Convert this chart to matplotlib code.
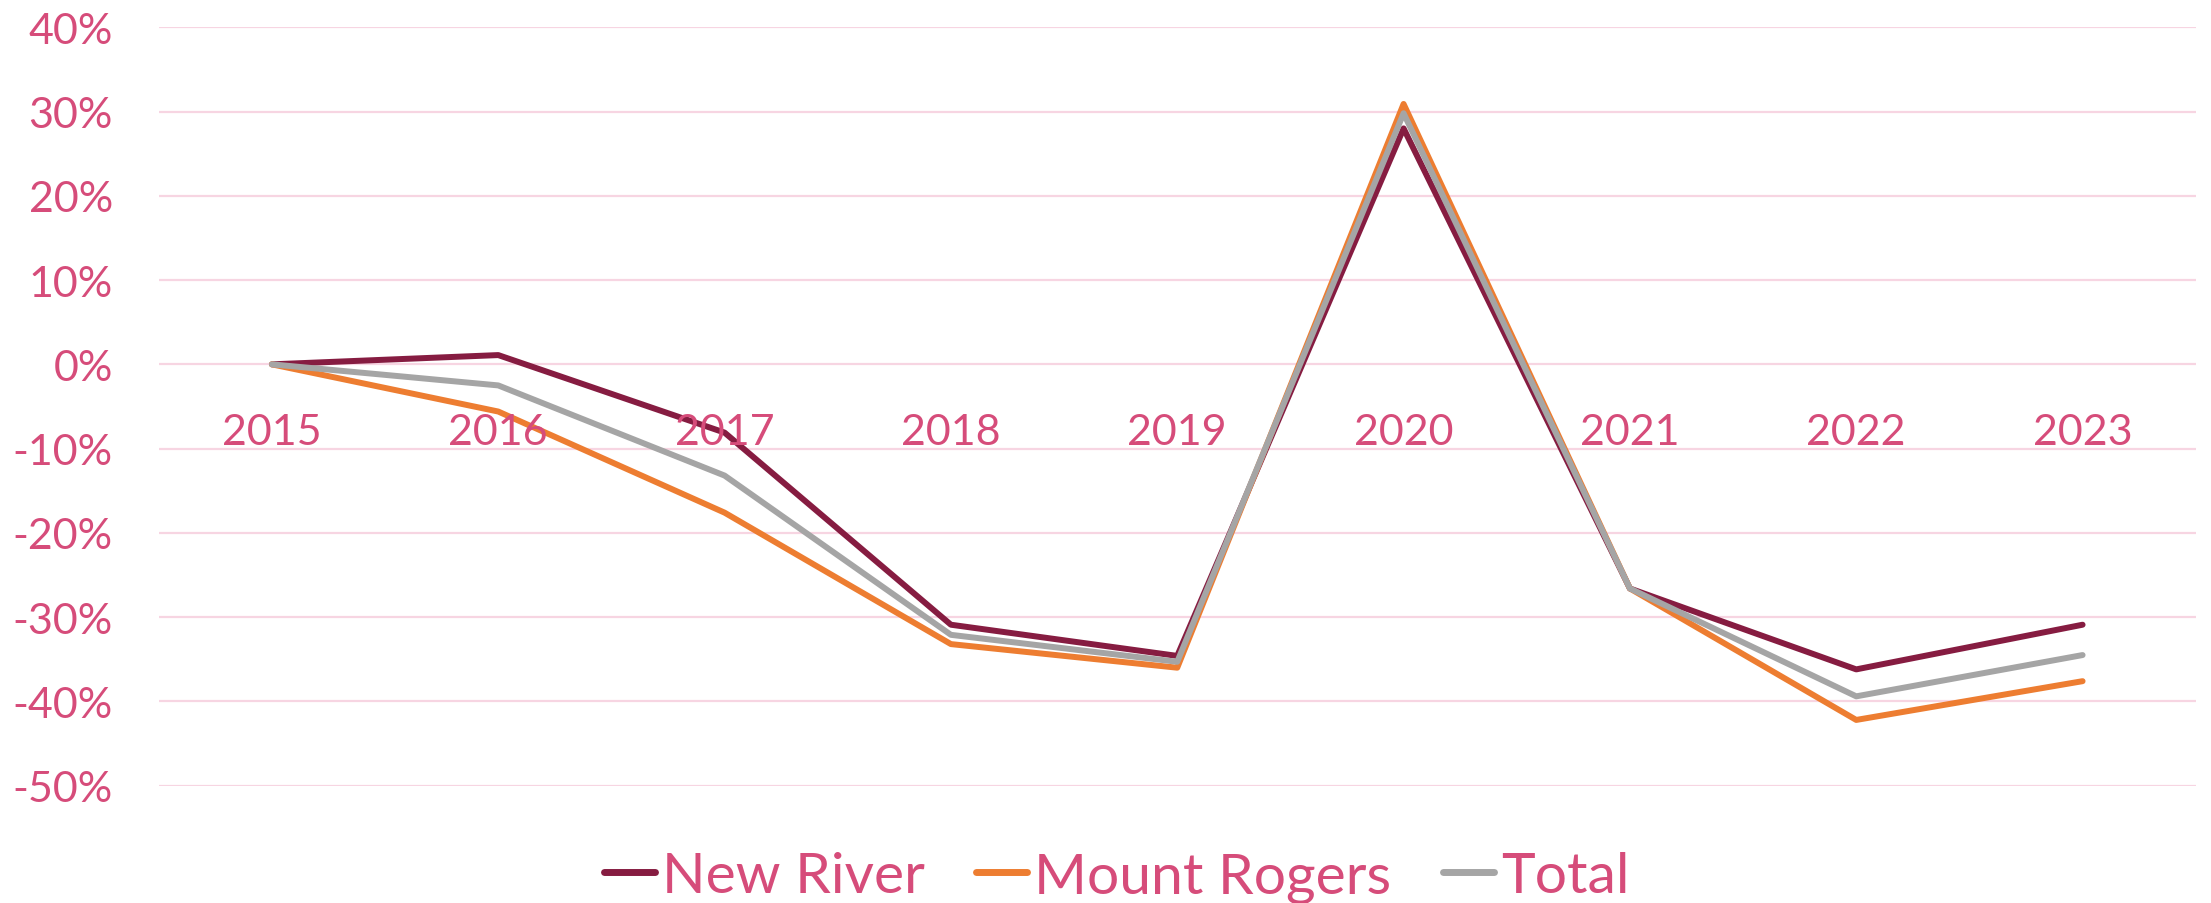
"""
    Year-over-year change by district, line chart
"""

#===== LIBRARIES =====================================
import matplotlib
matplotlib.use("Agg")
import matplotlib.pyplot as plt
import matplotlib.transforms as mtransforms
from matplotlib.ticker import FuncFormatter

#===== DATA ==========================================
years = ["2015", "2016", "2017", "2018", "2019", "2020", "2021", "2022", "2023"]

new_river = [0.0, 1.1, -8.1, -30.9, -34.6, 28.0, -26.6, -36.2, -30.9]
mount_rogers = [0.0, -5.6, -17.6, -33.2, -36.0, 30.9, -26.6, -42.2, -37.6]
total = [0.0, -2.5, -13.2, -32.1, -35.3, 29.8, -26.6, -39.4, -34.5]

series_names = ["New River", "Mount Rogers", "Total"]

#===== STYLE =========================================
TEXT_COLOR = "#D64C7A"
GRID_COLOR = "#F7D5E2"
LINE_COLORS = ["#861C41", "#ED7D31", "#A5A5A5"]

plt.rcParams["font.family"] = ["Lato", "DejaVu Sans"]

#===== PLOT ==========================================
fig = plt.figure(figsize=(22.11, 9.04), dpi=100)
ax = fig.add_axes([0.0718, 0.1298, 0.9213, 0.8389])

x = list(range(len(years)))
for values, name, color in zip([new_river, mount_rogers, total], series_names, LINE_COLORS):
    ax.plot(x, values, color=color, linewidth=4.3, label=name,
            solid_capstyle="round", solid_joinstyle="round")

ax.set_xlim(-0.5, len(years) - 0.5)
ax.set_ylim(-50, 40)
ax.set_yticks(range(-50, 41, 10))
ax.yaxis.set_major_formatter(FuncFormatter(lambda v, _: f"{v:.0f}%"))
ax.tick_params(axis="y", length=0, pad=33, labelsize=31, labelcolor=TEXT_COLOR)
ax.set_xticks([])

ax.grid(axis="y", color=GRID_COLOR, linewidth=1.6)
ax.set_axisbelow(True)
for spine in ax.spines.values():
    spine.set_visible(False)

# category labels sit just under the zero line
label_trans = mtransforms.offset_copy(ax.transData, fig=fig, y=-68, units="dots")
for xi, year in zip(x, years):
    ax.text(xi, 0, year, transform=label_trans, ha="center", va="center",
            fontsize=31, color=TEXT_COLOR)

leg = fig.legend(loc="center", ncol=3, frameon=False, fontsize=41,
                 bbox_to_anchor=(0.505, 0.029), handlelength=0.9,
                 handletextpad=0.12, columnspacing=0.9)
for text in leg.get_texts():
    text.set_color(TEXT_COLOR)
for line in leg.get_lines():
    line.set_linewidth(5.0)

fig.savefig("out.png", dpi=100)
